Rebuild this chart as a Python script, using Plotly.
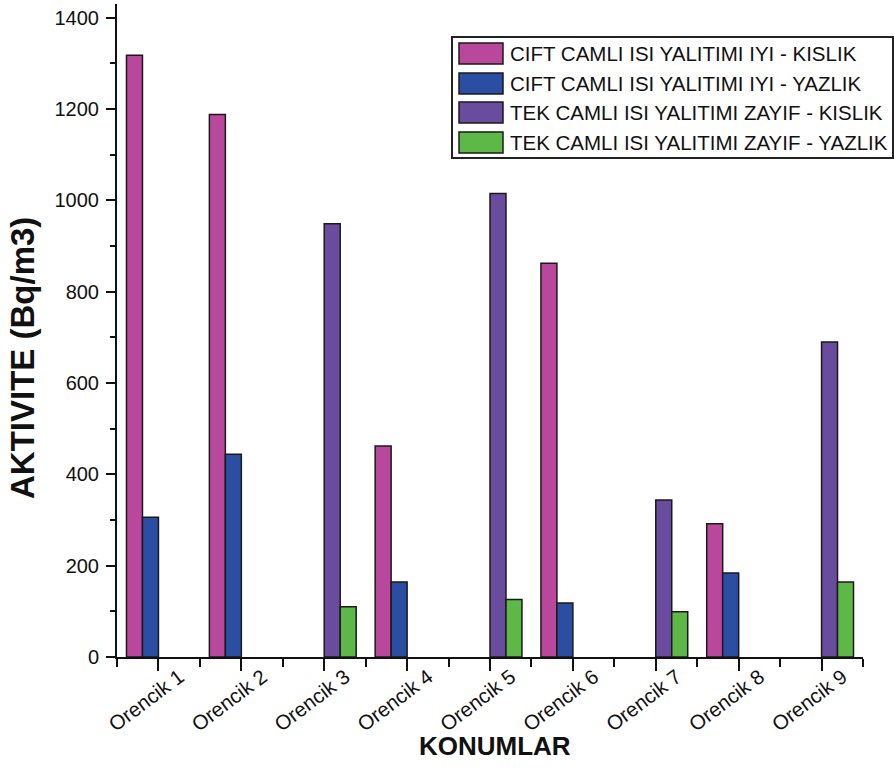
import plotly.graph_objects as go

# ---- data ----
locations = ["Orencik 1", "Orencik 2", "Orencik 3", "Orencik 4", "Orencik 5",
             "Orencik 6", "Orencik 7", "Orencik 8", "Orencik 9"]
series_names = ["CIFT CAMLI ISI YALITIMI IYI - KISLIK",
                "CIFT CAMLI ISI YALITIMI IYI - YAZLIK",
                "TEK CAMLI ISI YALITIMI ZAYIF - KISLIK",
                "TEK CAMLI ISI YALITIMI ZAYIF - YAZLIK"]
cift_kislik = [1318, 1188, None, 462, None, 862, None, 292, None]
cift_yazlik = [306, 444, None, 164, None, 118, None, 184, None]
tek_kislik = [None, None, 949, None, 1015, None, 344, None, 690]
tek_yazlik = [None, None, 110, None, 126, None, 99, None, 164]
y_ticks = [0, 200, 400, 600, 800, 1000, 1200, 1400]

colors = ["#B9489D", "#2B4EA2", "#6A4C9F", "#5DB847"]
FONT = "Liberation Sans, Arial, sans-serif"

W, H = 894, 769
ML, MR, MT, MB = 117, 31, 4, 112
PW, PH = W - ML - MR, H - MT - MB


def px(x):
    return (x - ML) / PW


def py(y):
    return (H - MB - y) / PH


xs = list(range(len(locations)))
fig = go.Figure()
for name, vals, col in zip(series_names, [cift_kislik, cift_yazlik, tek_kislik, tek_yazlik], colors):
    fig.add_trace(go.Bar(x=xs, y=vals, name=name, marker=dict(color=col, line=dict(color="#1a1a1a", width=1.5)),
                         showlegend=False))

# manual legend
shapes = [dict(type="rect", xref="paper", yref="paper", x0=px(452), x1=px(893), y0=py(37), y1=py(158),
               line=dict(color="#222", width=2), fillcolor="white", layer="above")]
annotations = []
row_top = [43, 73, 102, 132]
for i, (name, col) in enumerate(zip(series_names, colors)):
    t = row_top[i]
    shapes.append(dict(type="rect", xref="paper", yref="paper", x0=px(459), x1=px(503), y0=py(t), y1=py(t + 21),
                       line=dict(color="#1a1a1a", width=1.5), fillcolor=col, layer="above"))
    annotations.append(dict(xref="paper", yref="paper", x=px(508), y=py(t + 10.5), xanchor="left", yanchor="middle",
                            text=name, showarrow=False, font=dict(family=FONT, size=20.5, color="#111")))

annotations.append(dict(xref="paper", yref="paper", x=px(22), y=py(358), text="<b>AKTIVITE (Bq/m3)</b>",
                        textangle=-90, showarrow=False, xanchor="center", yanchor="middle",
                        font=dict(family=FONT, size=33, color="#111")))
annotations.append(dict(xref="paper", yref="paper", x=px(495), y=py(746), text="<b>KONUMLAR</b>",
                        showarrow=False, xanchor="center", yanchor="middle",
                        font=dict(family=FONT, size=26, color="#111")))

fig.update_layout(
    width=W, height=H,
    margin=dict(l=ML, r=MR, t=MT, b=MB, pad=0),
    paper_bgcolor="white", plot_bgcolor="white",
    barmode="group", bargap=0.229, bargroupgap=0,
    font=dict(family=FONT, color="#111"),
    shapes=shapes, annotations=annotations,
    xaxis=dict(range=[-0.5, 8.5], tickmode="array", tickvals=xs, ticktext=locations,
               tickangle=-37, tickfont=dict(size=20.5, family=FONT, color="#111"),
               showline=True, linecolor="#111", linewidth=2, mirror=False,
               ticks="outside", ticklen=12, tickwidth=2, tickcolor="#111",
               ticklabelshift=21, ticklabelstandoff=-14, automargin=False,
               minor=dict(tickmode="array", tickvals=[i - 0.5 for i in range(len(locations) + 1)],
                          ticks="outside", ticklen=8, tickwidth=2, tickcolor="#111"),
               showgrid=False, zeroline=False),
    yaxis=dict(range=[0, 1430], tickmode="array", tickvals=y_ticks,
               tickfont=dict(size=20, family=FONT, color="#111"),
               showline=True, linecolor="#111", linewidth=2,
               ticks="outside", ticklen=9, tickwidth=2, tickcolor="#111",
               ticklabelstandoff=3, automargin=False,
               minor=dict(dtick=100, tick0=0, ticks="outside", ticklen=5, tickwidth=2, tickcolor="#111"),
               showgrid=False, zeroline=False),
)

fig.write_html("out.html", config={"displayModeBar": False},
               post_script="document.body.style.margin='0';")
